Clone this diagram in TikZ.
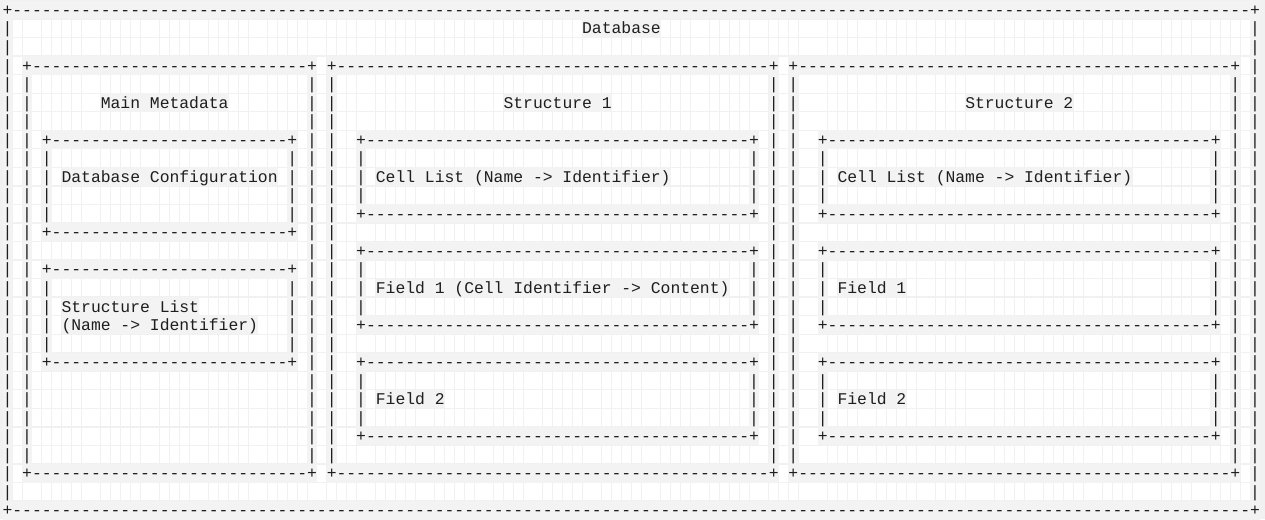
\documentclass[tikz,border=0pt]{standalone}
\usepackage{fontspec}
\newfontfamily\asciifont{Liberation Mono}
\definecolor{bggray}{HTML}{F1F1F1}
\definecolor{cellgray}{HTML}{F3F3F3}
\definecolor{inkgray}{HTML}{1E1E1E}
\def\aW{9.823}
\def\aH{18.54}
\def\aX{2.6}
\def\aY{0.5}
\def\aB{14.9}
\tikzset{
  glyph/.style={font=\asciifont\fontsize{12.277pt}{14pt}\selectfont, text=inkgray,
    inner sep=0pt, outer sep=0pt, anchor=base west},
  spacecell/.style={fill=white},
  inkcell/.style={fill=cellgray}
}
% horizontal border: +----+ from col #1 to col #2 on row #3
\newcommand\asciiH[3]{%
  \fill[inkcell] ({\aX+#1*\aW},{\aY+#3*\aH}) rectangle ({\aX+(#2+1)*\aW},{\aY+(#3+1)*\aH});
  \node[glyph] (g-#3-#1) at ({\aX+#1*\aW},{\aY+#3*\aH+\aB}) {+};
  \node[glyph] (g-#3-#2) at ({\aX+#2*\aW},{\aY+#3*\aH+\aB}) {+};
  \pgfmathtruncatemacro\asciia{#1+1}%
  \pgfmathtruncatemacro\asciib{#2-1}%
  \foreach \c in {\asciia,...,\asciib} {\node[glyph] (g-#3-\c) at ({\aX+\c*\aW},{\aY+#3*\aH+\aB}) {-};}
}
% vertical border: | in col #1 from row #2 to row #3
\newcommand\asciiV[3]{%
  \fill[inkcell] ({\aX+#1*\aW},{\aY+#2*\aH}) rectangle ({\aX+(#1+1)*\aW},{\aY+(#3+1)*\aH});
  \foreach \r in {#2,...,#3} {\node[glyph] (g-\r-#1) at ({\aX+#1*\aW},{\aY+\r*\aH+\aB}) {|};}
}
% box from col #1 to #2, rows #3 to #4
\newcommand\asciiBox[4]{%
  \asciiH{#1}{#2}{#3}\asciiH{#1}{#2}{#4}%
  \pgfmathtruncatemacro\asciic{#3+1}%
  \pgfmathtruncatemacro\asciid{#4-1}%
  \asciiV{#1}{\asciic}{\asciid}\asciiV{#2}{\asciic}{\asciid}%
}
% text: name, col, row, length, text
\newcommand\asciiT[5]{%
  \fill[inkcell] ({\aX+#2*\aW},{\aY+#3*\aH}) rectangle ({\aX+(#2+#4)*\aW},{\aY+(#3+1)*\aH});
  \node[glyph] (#1) at ({\aX+#2*\aW},{\aY+#3*\aH+\aB}) {#5};
}
\begin{document}
\begin{tikzpicture}[x=0.75pt,y=-0.75pt]
\useasboundingbox (0,0) rectangle (1265,519);
\fill[bggray] (0,0) rectangle (1265,519);
% white cells for spaces
\foreach \r in {0,...,27} {
  \foreach \c in {0,...,127} {
    \fill[spacecell] ({\aX+\c*\aW+0.4},{\aY+\r*\aH+0.65}) rectangle ++(\aW-0.8,\aH-1.3);
  }
}
% outer Database box
\asciiBox{0}{127}{0}{27}
\asciiT{db}{59}{1}{8}{Database}
% Main Metadata
\asciiBox{2}{31}{3}{25}
\asciiT{mm}{10}{5}{13}{Main Metadata}
\asciiBox{4}{29}{7}{12}
\asciiT{dc}{6}{9}{22}{Database Configuration}
\asciiBox{4}{29}{14}{19}
\asciiT{sl}{6}{16}{14}{Structure List}
\asciiT{sln}{6}{17}{20}{(Name -> Identifier)}
% Structure 1
\asciiBox{33}{78}{3}{25}
\asciiT{s1}{51}{5}{11}{Structure 1}
\asciiBox{36}{76}{7}{11}
\asciiT{s1cl}{38}{9}{30}{Cell List (Name -> Identifier)}
\asciiBox{36}{76}{13}{17}
\asciiT{s1f1}{38}{15}{36}{Field 1 (Cell Identifier -> Content)}
\asciiBox{36}{76}{19}{23}
\asciiT{s1f2}{38}{21}{7}{Field 2}
% Structure 2
\asciiBox{80}{125}{3}{25}
\asciiT{s2}{98}{5}{11}{Structure 2}
\asciiBox{83}{123}{7}{11}
\asciiT{s2cl}{85}{9}{30}{Cell List (Name -> Identifier)}
\asciiBox{83}{123}{13}{17}
\asciiT{s2f1}{85}{15}{7}{Field 1}
\asciiBox{83}{123}{19}{23}
\asciiT{s2f2}{85}{21}{7}{Field 2}
\end{tikzpicture}
\end{document}
